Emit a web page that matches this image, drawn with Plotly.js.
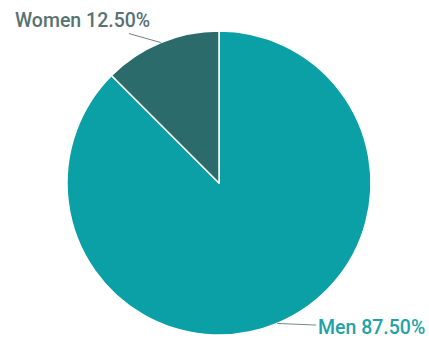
<!DOCTYPE html>
<html><head><meta charset="utf-8">
<script src="https://cdn.plot.ly/plotly-3.0.1.min.js"></script>
<style>html,body{margin:0;padding:0;background:#fff}#chart{width:429px;height:339px}</style>
</head><body><div id="chart"></div>
<script>
const labels = ["Men", "Women"];
const values = [87.5, 12.5];
const colors = ["#0aa0a6", "#2b6b6b"];
const textColors = ["#22a2a8", "#587272"];
const lineColors = ["#6f8f8f", "#6f7f7f"];
const labelOffsets = [[94, 4], [-78, -22]];

const total = values.reduce((a, b) => a + b, 0);
let start = 0;
const annotations = labels.map((lab, i) => {
  const frac = values[i] / total;
  const mid = (start + frac / 2) * 2 * Math.PI;
  start += frac;
  return {
    xref: "paper", yref: "paper",
    x: 0.5 + 0.5 * Math.sin(mid),
    y: 0.5 + 0.5 * Math.cos(mid),
    text: lab + " " + (frac * 100).toFixed(2) + "%",
    showarrow: true, arrowhead: 0, arrowwidth: 1, arrowcolor: lineColors[i],
    ax: labelOffsets[i][0], ay: labelOffsets[i][1],
    font: {family: "Roboto", size: 19.5, weight: 500, color: textColors[i]}
  };
});

Plotly.newPlot("chart", [{
  type: "pie",
  labels: labels,
  values: values,
  sort: false,
  direction: "clockwise",
  rotation: 0,
  marker: {colors: colors, line: {color: "#ffffff", width: 1.5}},
  textinfo: "none",
  automargin: false,
  hoverinfo: "none",
  showlegend: false
}], {
  width: 429, height: 339,
  margin: {l: 67, r: 58, t: 31, b: 4},
  paper_bgcolor: "#ffffff",
  showlegend: false,
  annotations: annotations
}, {displayModeBar: false, staticPlot: true});
</script></body></html>
